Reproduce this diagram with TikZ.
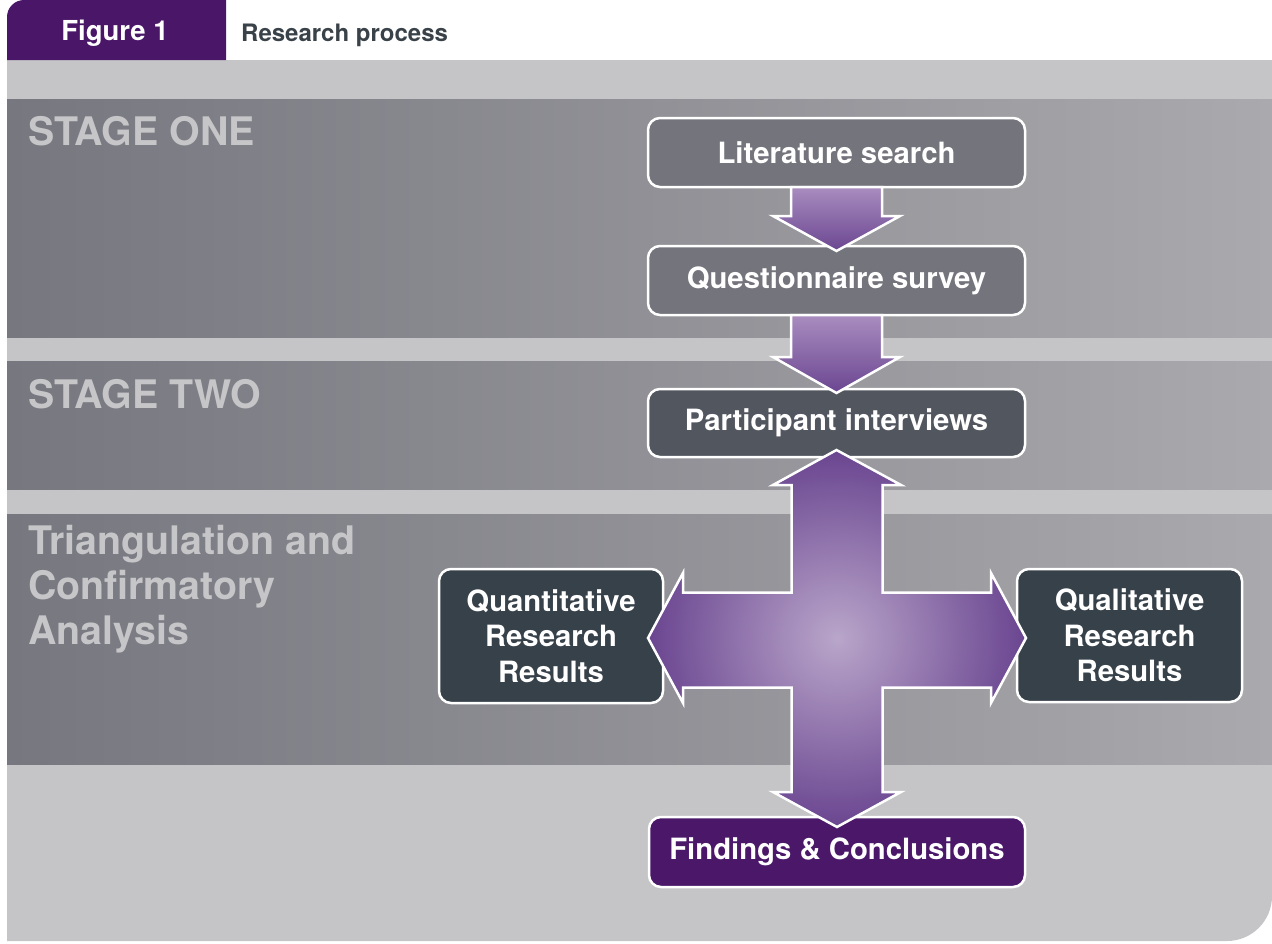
\documentclass[tikz,border=0pt]{standalone}
\usepackage{fontspec}
\setmainfont{TeX Gyre Heros}
\usetikzlibrary{calc}
\definecolor{bgl}{HTML}{C5C5C7}
\definecolor{bandl}{HTML}{76777F}
\definecolor{bandr}{HTML}{AAA9AD}
\definecolor{stagetxt}{HTML}{C6C6C9}
\definecolor{tabc}{HTML}{4A1768}
\definecolor{hdrtxt}{HTML}{3A4249}
\definecolor{litfill}{HTML}{73747C}
\definecolor{partfill}{HTML}{52565F}
\definecolor{resfill}{HTML}{37414A}
\definecolor{findfill}{HTML}{4A1769}
\definecolor{arrtop}{HTML}{A98CBF}
\definecolor{arrbot}{HTML}{6B4691}
\definecolor{crossin}{HTML}{B9A6CA}
\definecolor{crossout}{HTML}{6A4590}
\tikzset{
  stagelbl/.style={text=stagetxt, font=\bfseries\fontsize{39.3}{45}\selectfont, inner sep=0, align=left},
  band/.style={left color=bandl, right color=bandr},
  box/.style={draw=white, line width=2.5, rounded corners=12, align=center, text=white,
    font=\bfseries\fontsize{29.3}{35.3}\selectfont, inner sep=0, outer sep=0},
  garrow/.style={draw=white, line width=2.5, top color=arrtop, bottom color=arrbot, line join=miter},
  xarrow/.style={draw=white, line width=2.5, inner color=crossin, outer color=crossout, line join=miter}
}
\begin{document}
\begin{tikzpicture}[x=1pt,y=-1pt]
\useasboundingbox (0,0) rectangle (1272,943);
% background
\fill[bgl] (7,60) -- (1272,60) -- (1272,896) .. controls (1272,920.85) and (1251.85,941) .. (1227,941) -- (7,941) -- cycle;
% header tab
\fill[tabc] (7,60) -- (7,17) .. controls (7,7.6) and (14.6,0) .. (24,0) -- (226,0) -- (226,60) -- cycle;
\node[anchor=base, text=white, font=\bfseries\fontsize{27.5}{30}\selectfont, inner sep=0] (fig) at (115,40) {Figure 1};
\node[anchor=base west, text=hdrtxt, font=\bfseries\fontsize{24}{28}\selectfont, inner sep=0] (title) at (241,41) {Research process};
% bands
\shade[band] (7,99) rectangle (1272,337);
\shade[band] (7,361) rectangle (1272,489);
\shade[band] (7,514) rectangle (1272,764);
% stage labels
\node[stagelbl, anchor=base west] (s1) at (28,145) {STAGE ONE};
\node[stagelbl, anchor=base west] (s2) at (28,408) {STAGE TWO};
\node[stagelbl, anchor=north west] (s3) at (28,525) {Triangulation and\\Confirmatory\\Analysis};
% boxes
\node[box, fill=litfill, minimum width=377, minimum height=69] (lit) at (836.5,152.5) {Literature search};
\node[box, fill=litfill, minimum width=377, minimum height=69] (quest) at (836.5,280.5) {Questionnaire survey};
\node[box, fill=partfill, minimum width=377, minimum height=68] (part) at (836.5,423) {Participant interviews};
\node[box, fill=resfill, minimum width=224, minimum height=134] (quant) at (551,636) {Quantitative\\Research\\Results};
\node[box, fill=resfill, minimum width=225, minimum height=133] (qual) at (1129.5,635.5) {Qualitative\\Research\\Results};
\node[box, fill=findfill, minimum width=376, minimum height=70] (find) at (837,852) {Findings \& Conclusions};
% arrows
\path[garrow] ($(lit.south)+(-45.5,0)$) -- ($(quest.north)+(-45.5,-30)$) -- ($(quest.north)+(-63.5,-30)$)
  -- ($(quest.north)+(0,5)$) -- ($(quest.north)+(63.5,-30)$) -- ($(quest.north)+(45.5,-30)$)
  -- ($(lit.south)+(45.5,0)$) -- cycle;
\path[garrow] ($(quest.south)+(-45.5,0)$) -- ($(part.north)+(-45.5,-32)$) -- ($(part.north)+(-63.5,-32)$)
  -- ($(part.north)+(0,4)$) -- ($(part.north)+(63.5,-32)$) -- ($(part.north)+(45.5,-32)$)
  -- ($(quest.south)+(45.5,0)$) -- cycle;
% cross arrow
\coordinate (c) at (837,640);
\path[xarrow] ($(part.south)+(0,-7)$)
  -- ($(c)+(64,-155)$) -- ($(c)+(45.5,-155)$) -- ($(c)+(45.5,-47.5)$)
  -- ($(c)+(154,-47.5)$) -- ($(c)+(154,-67)$)
  -- ($(qual.west)+(9,2.5)$)
  -- ($(c)+(154,63)$) -- ($(c)+(154,47.5)$) -- ($(c)+(45.5,47.5)$)
  -- ($(c)+(45.5,152)$) -- ($(c)+(64,152)$)
  -- ($(find.north)+(0,10)$)
  -- ($(c)+(-64,152)$) -- ($(c)+(-45.5,152)$) -- ($(c)+(-45.5,47.5)$)
  -- ($(c)+(-154,47.5)$) -- ($(c)+(-154,63)$)
  -- ($(quant.east)+(-15,2)$)
  -- ($(c)+(-154,-67)$) -- ($(c)+(-154,-47.5)$) -- ($(c)+(-45.5,-47.5)$)
  -- ($(c)+(-45.5,-155)$) -- ($(c)+(-64,-155)$) -- cycle;
\end{tikzpicture}
\end{document}
